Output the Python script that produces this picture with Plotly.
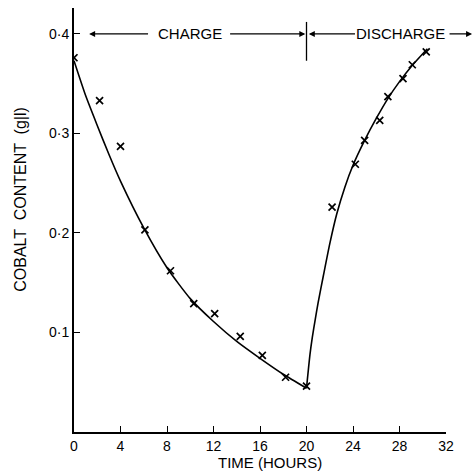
import plotly.graph_objects as go

# Measured points (hours, g/l)
charge_time = [0, 2.2, 4.0, 6.1, 8.3, 10.3, 12.1, 14.3, 16.2, 18.2, 20.0]
charge_cobalt = [0.376, 0.333, 0.287, 0.203, 0.162, 0.129, 0.119, 0.096, 0.077, 0.055, 0.046]

discharge_time = [22.2, 24.2, 25.0, 26.3, 27.0, 28.3, 29.1, 30.3]
discharge_cobalt = [0.226, 0.269, 0.293, 0.313, 0.337, 0.355, 0.369, 0.382]

# Smooth drawn curves
curve_charge_time = [0, 1, 2, 3, 4, 6, 8, 10, 12, 14, 16, 18, 20]
curve_charge_cobalt = [0.373, 0.338, 0.308, 0.279, 0.252, 0.205, 0.165, 0.134, 0.111, 0.091, 0.074, 0.058, 0.044]
curve_discharge_time = [20.0, 20.3, 20.5, 20.75, 21.0, 21.45, 22.0, 22.6, 23.3, 24.0, 25.0, 26.0, 27.0, 28.0, 29.0, 30.4]
curve_discharge_cobalt = [0.044, 0.078, 0.095, 0.113, 0.130, 0.157, 0.189, 0.219, 0.246, 0.268, 0.293, 0.315, 0.335, 0.352, 0.367, 0.385]

x_ticks = [0, 4, 8, 12, 16, 20, 24, 28, 32]
x_labels = ["0", "4", "8", "12", "16", "20", "24", "28", "32"]
y_ticks = [0.1, 0.2, 0.3, 0.4]
y_labels = ["0·1", "0·2", "0·3", "0·4"]

charge_end = 20
font = "Liberation Sans"

fig = go.Figure()
fig.add_trace(go.Scatter(x=curve_charge_time, y=curve_charge_cobalt, mode="lines",
                         line=dict(color="black", width=1.6, shape="spline", smoothing=0.6),
                         showlegend=False))
fig.add_trace(go.Scatter(x=curve_discharge_time, y=curve_discharge_cobalt, mode="lines",
                         line=dict(color="black", width=1.6, shape="spline", smoothing=0.6),
                         showlegend=False))
fig.add_trace(go.Scatter(x=charge_time + discharge_time, y=charge_cobalt + discharge_cobalt,
                         mode="markers",
                         marker=dict(symbol="x-thin", size=7, color="black",
                                     line=dict(color="black", width=1.7)),
                         showlegend=False))

# top annotations: CHARGE / DISCHARGE
yl = 0.4
fig.add_shape(type="line", x0=charge_end, x1=charge_end, y0=0.373, y1=0.412,
              xref="x", yref="y", line=dict(color="black", width=1.3))
arrow = dict(text="", showarrow=True, arrowhead=2, arrowsize=1, arrowwidth=1.2, arrowcolor="black",
             xref="x", yref="y", axref="x", ayref="y")
fig.add_annotation(x=1.3, y=yl, ax=6.5, ay=yl, **arrow)
fig.add_annotation(x=19.9, y=yl, ax=13.3, ay=yl, **arrow)
fig.add_annotation(x=9.95, y=yl, xref="x", yref="y", text="CHARGE", showarrow=False,
                   font=dict(family=font, size=15, color="black"))
fig.add_annotation(x=20.2, y=yl, ax=24.3, ay=yl, **arrow)
fig.add_annotation(x=28.1, y=yl, xref="x", yref="y", text="DISCHARGE", showarrow=False,
                   font=dict(family=font, size=15, color="black"))
fig.add_annotation(x=1.07, y=yl / 0.426, ax=-24, ay=0, xref="x domain", yref="y domain",
                   axref="pixel", ayref="pixel",
                   text="", showarrow=True, arrowhead=2, arrowsize=1, arrowwidth=1.2, arrowcolor="black")

# axis titles
fig.add_annotation(x=0.527, y=-0.073, xref="paper", yref="paper", text="TIME (HOURS)",
                   showarrow=False, font=dict(family=font, size=15, color="black"),
                   xanchor="center", yanchor="middle")
fig.add_annotation(x=-0.1425, y=0.55, xref="paper", yref="paper",
                   text="COBALT  CONTENT  (g|l)", textangle=-90,
                   showarrow=False, font=dict(family=font, size=16, color="black"),
                   xanchor="center", yanchor="middle")

fig.update_layout(
    width=476, height=476,
    margin=dict(l=74, r=30, t=8, b=44),
    paper_bgcolor="white", plot_bgcolor="white",
    font=dict(family=font, size=14, color="black"),
    xaxis=dict(range=[0, 32], tickvals=x_ticks, ticktext=x_labels, ticks="inside", ticklen=6,
               tickwidth=1.3, tickcolor="black", showline=True, linecolor="black", linewidth=2,
               showgrid=False, zeroline=False, tickfont=dict(size=14)),
    yaxis=dict(range=[0, 0.426], tickvals=y_ticks, ticktext=y_labels, ticks="inside", ticklen=6,
               tickwidth=1.3, tickcolor="black", showline=True, linecolor="black", linewidth=2,
               showgrid=False, zeroline=False, tickfont=dict(size=14)),
)

fig.write_html("out.html")
